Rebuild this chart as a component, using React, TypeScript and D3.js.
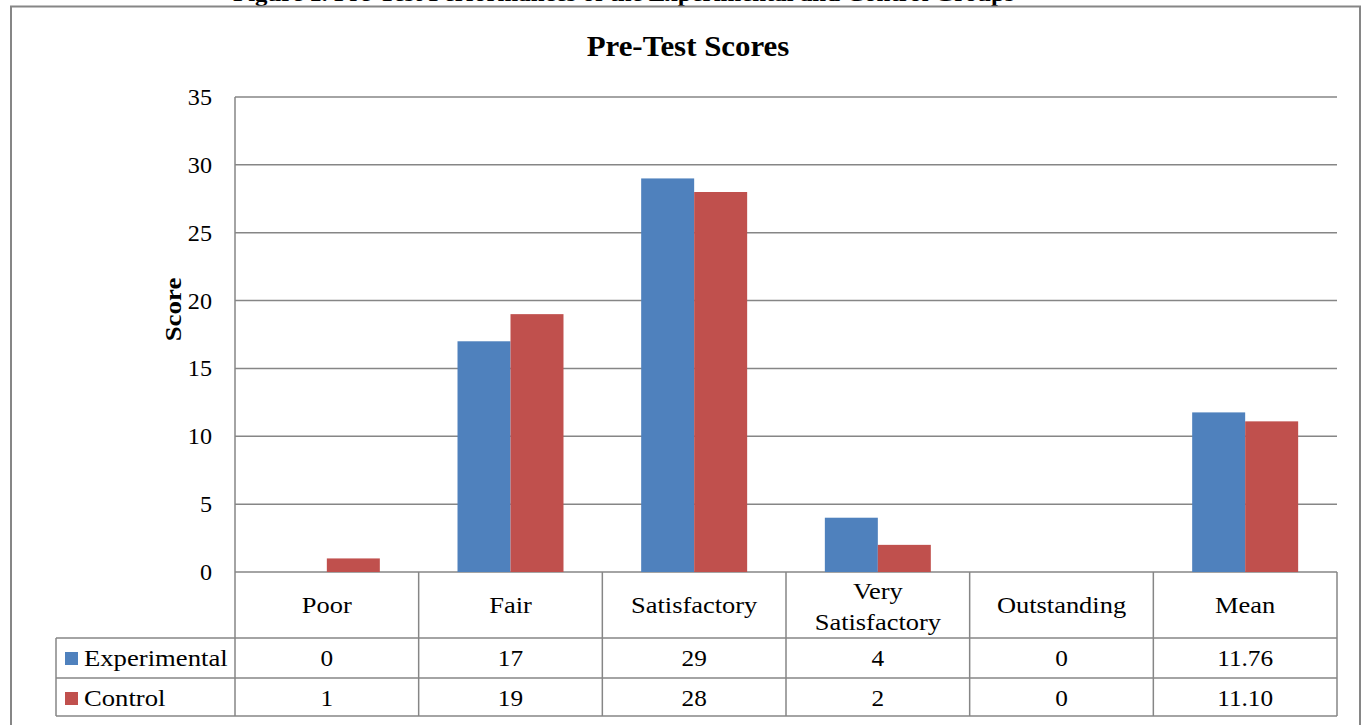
import React from 'react';
import * as d3 from 'd3';

const categories = ['Poor', 'Fair', 'Satisfactory', 'Very Satisfactory', 'Outstanding', 'Mean'];
const seriesNames = ['Experimental', 'Control'];
const experimental = [0, 17, 29, 4, 0, 11.76];
const control = [1, 19, 28, 2, 0, 11.1];
const tableLabels = [
  ['0', '17', '29', '4', '0', '11.76'],
  ['1', '19', '28', '2', '0', '11.10'],
];
const yTicks = [0, 5, 10, 15, 20, 25, 30, 35];
const colors = ['#4F81BD', '#C0504D'];

const W = 1369, H = 725;
const left = 235, right = 1337, top = 97, bottom = 572;
const row1 = 638, row2 = 678, row3 = 716;
const legendLeft = 56;
const grid = '#868686';
const font = '"Liberation Serif", "Times New Roman", serif';

// small helper: text stretched horizontally like the source image
function T({ x, y, size = 23, anchor = 'middle', weight = 'normal', sx = 1.15, children }: any) {
  return (
    <text transform={`translate(${x},${y}) scale(${sx},1)`} textAnchor={anchor}
      fontFamily={font} fontSize={size} fontWeight={weight} fill="#000">{children}</text>
  );
}

export default function App() {
  const x0 = d3.scaleBand().domain(categories).range([left, right]).paddingInner(0);
  const x1 = d3.scaleBand().domain(seriesNames).range([0, x0.bandwidth()]).paddingInner(0).paddingOuter(0.733);
  const y = d3.scaleLinear().domain([0, 35]).range([bottom, top]);
  const values = [experimental, control];

  return (
    <svg width={W} height={H} style={{ position: 'absolute', left: 0, top: 0, background: '#fff' }}>
      {/* cropped figure caption */}
      <T x={233} y={1} size={22} anchor="start" weight="bold" sx={1.13}>
        Figure 1. Pre-Test Performances of the Experimental and Control Groups
      </T>
      <rect x={11} y={6.5} width={1349} height={740} fill="#fff" stroke={grid} strokeWidth={2} />

      <T x={688} y={56} size={30} weight="bold" sx={1.03}>Pre-Test Scores</T>
      <text transform={`translate(181,${(top + bottom) / 2 - 25}) rotate(-90) scale(1.12,1)`} textAnchor="middle"
        fontFamily={font} fontSize={24} fontWeight="bold">Score</text>

      {/* gridlines + y ticks */}
      {yTicks.map(t => (
        <g key={t}>
          <line x1={left} x2={right} y1={y(t)} y2={y(t)} stroke={grid} strokeWidth={1.5} />
          <T x={212} y={y(t) + 8} anchor="end" sx={1.05}>{t}</T>
        </g>
      ))}

      {/* bars */}
      {values.map((vals, si) => vals.map((v, ci) => (
        <rect key={`${si}-${ci}`} x={(x0(categories[ci]) || 0) + (x1(seriesNames[si]) || 0)} y={y(v)}
          width={x1.bandwidth()} height={y(0) - y(v)} fill={colors[si]} />
      )))}

      {/* data table */}
      <g stroke={grid} strokeWidth={1.5}>
        <line x1={left} x2={left} y1={top} y2={row3} />
        <line x1={legendLeft} x2={legendLeft} y1={row1} y2={row3} />
        {categories.map(c => (
          <line key={c} x1={(x0(c) || 0) + x0.bandwidth()} x2={(x0(c) || 0) + x0.bandwidth()} y1={bottom} y2={row3} />
        ))}
        <line x1={legendLeft} x2={right} y1={row1} y2={row1} />
        <line x1={legendLeft} x2={right} y1={row2} y2={row2} />
        <line x1={legendLeft} x2={right} y1={row3} y2={row3} />
      </g>

      {categories.map(c => {
        const cx = (x0(c) || 0) + x0.bandwidth() / 2;
        const parts = c === 'Very Satisfactory' ? ['Very', 'Satisfactory'] : [c];
        return parts.length === 1
          ? <T key={c} x={cx} y={613}>{c}</T>
          : <g key={c}><T x={cx} y={599}>{parts[0]}</T><T x={cx} y={630}>{parts[1]}</T></g>;
      })}

      {seriesNames.map((s, si) => {
        const ry = si === 0 ? row1 : row2;
        return (
          <g key={s}>
            <rect x={65} y={ry + 14} width={13} height={13} fill={colors[si]} />
            <T x={84} y={ry + 28} anchor="start" sx={1.16}>{s}</T>
            {tableLabels[si].map((lab, ci) => (
              <T key={ci} x={(x0(categories[ci]) || 0) + x0.bandwidth() / 2} y={ry + 28} sx={1.1}>{lab}</T>
            ))}
          </g>
        );
      })}
    </svg>
  );
}
